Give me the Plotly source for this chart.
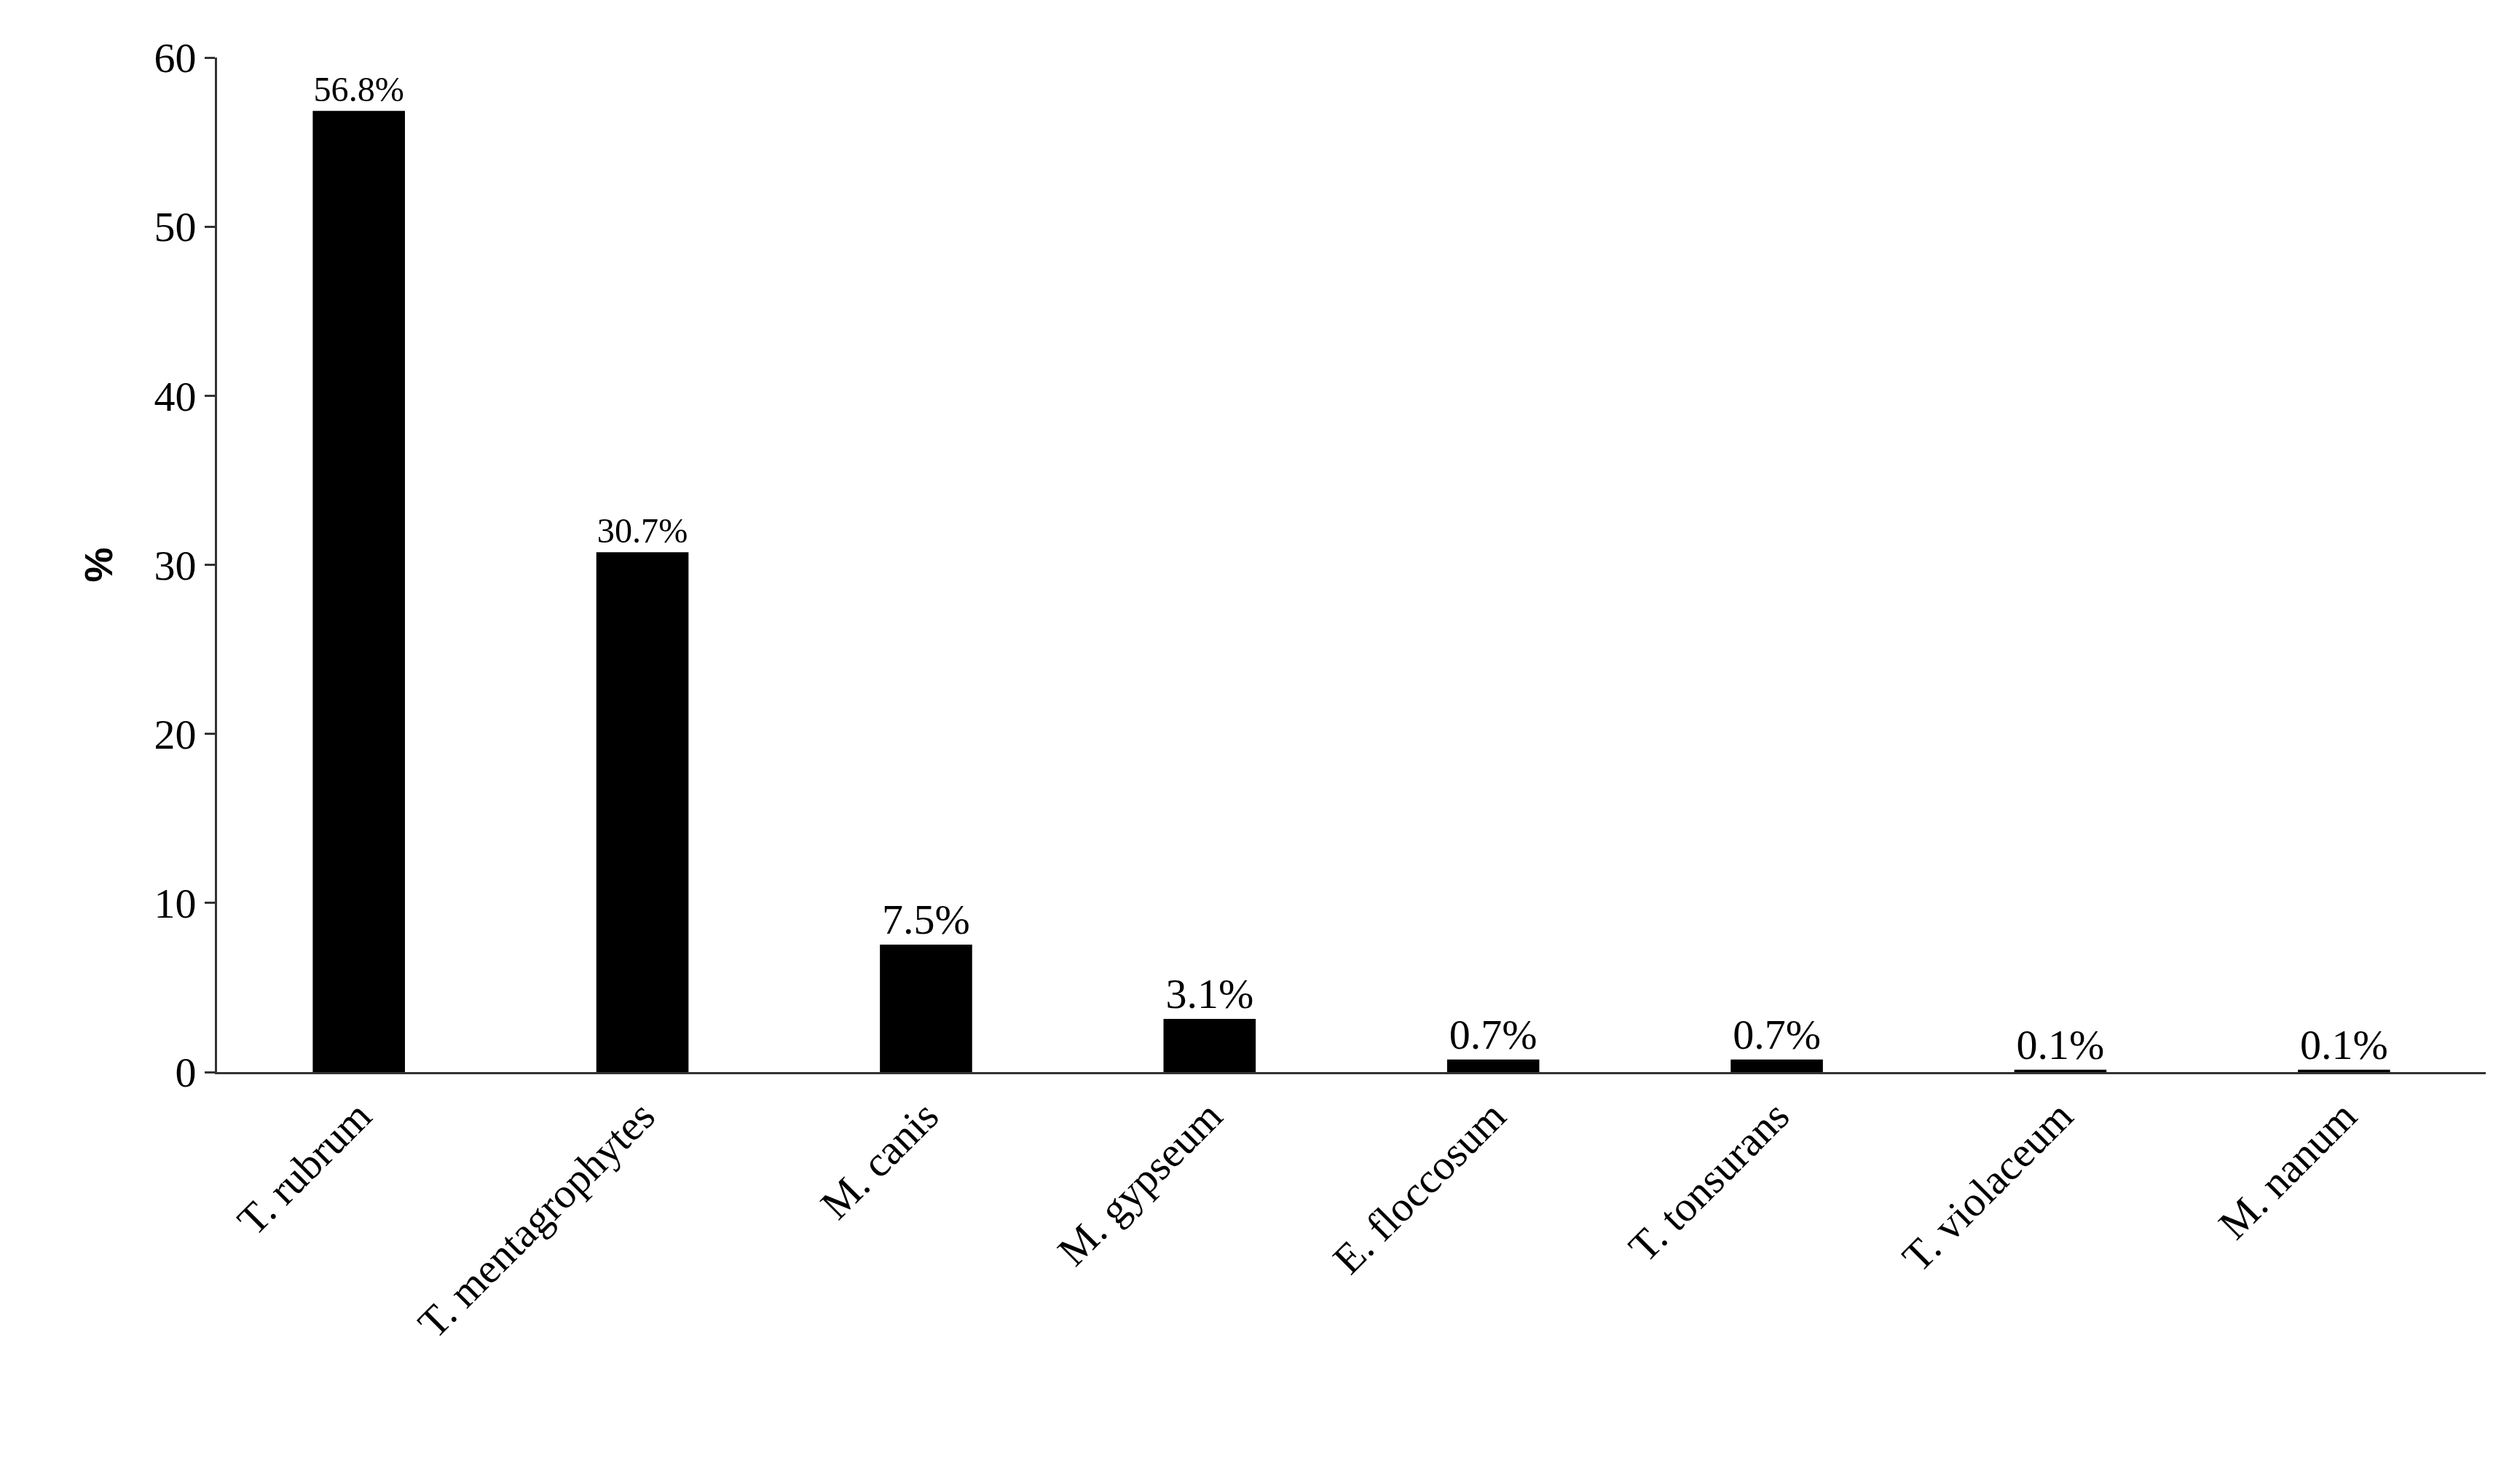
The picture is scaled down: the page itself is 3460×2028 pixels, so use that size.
import plotly.graph_objects as go

species = ["T. rubrum", "T. mentagrophytes", "M. canis", "M. gypseum",
           "E. floccosum", "T. tonsurans", "T. violaceum", "M. nanum"]
values = [56.8, 30.7, 7.5, 3.1, 0.7, 0.7, 0.1, 0.1]
labels = ["56.8%", "30.7%", "7.5%", "3.1%", "0.7%", "0.7%", "0.1%", "0.1%"]

font = "Liberation Serif"
fig = go.Figure(go.Bar(
    x=species, y=values, text=labels, textposition="outside",
    marker=dict(color="black", line=dict(color="black", width=2)),
    textfont=dict(family=font, size=58, color="black"), cliponaxis=False,
))
fig.update_layout(
    width=3460, height=2028, plot_bgcolor="white", paper_bgcolor="white",
    margin=dict(l=290, r=55, t=71, b=564), bargap=0.68, showlegend=False,
    font=dict(family=font, size=58, color="black"),
)
fig.update_yaxes(range=[0, 60], dtick=10, showgrid=False, showline=True,
                 linecolor="#333", linewidth=3, ticks="outside", ticklen=14,
                 tickwidth=3, tickcolor="#333",
                 title=dict(text="<b>%</b>", font=dict(family="Liberation Sans", size=54), standoff=40),
                 tickfont=dict(family=font, size=58))
fig.update_xaxes(showline=True, linecolor="#333", linewidth=3, tickangle=-45,
                 ticks="", tickfont=dict(family=font, size=58))
fig.write_html("out.html")
